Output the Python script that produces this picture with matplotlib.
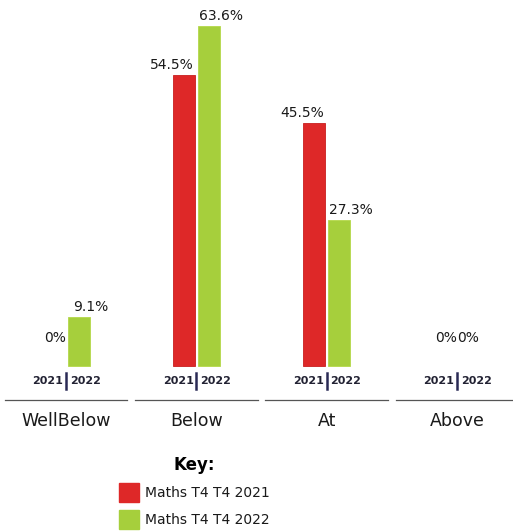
import matplotlib.pyplot as plt
from matplotlib.patches import Patch
import numpy as np

RED = "#de2828"
GREEN = "#a6cf3c"
TEXT = "#1a1a1a"

categories = ["WellBelow", "Below", "At", "Above"]
vals_2021 = [0.0, 54.5, 45.5, 0.0]
vals_2022 = [9.1, 63.6, 27.3, 0.0]
labels_2021 = ["0%", "54.5%", "45.5%", "0%"]
labels_2022 = ["9.1%", "63.6%", "27.3%", "0%"]
series_names = ["Maths T4 T4 2021", "Maths T4 T4 2022"]

fig = plt.figure(figsize=(5.13, 5.32), dpi=100)
ax = fig.add_axes([0, 0, 1, 1])
ax.set_xlim(-0.507, 3.43)
ax.set_ylim(-31.1, 68.5)
ax.set_axis_off()

x = np.arange(len(categories))
w = 0.169
off = 0.096

for i in range(len(categories)):
    if vals_2021[i] > 0:
        ax.bar(x[i] - off, vals_2021[i], w, color=RED, edgecolor="#c81e1e", linewidth=0.6)
    if vals_2022[i] > 0:
        ax.bar(x[i] + off, vals_2022[i], w, color=GREEN, edgecolor="#b5d84a", linewidth=0.6)

for i in range(len(categories)):
    if vals_2021[i] > 0:
        ax.text(x[i] - off - 0.09, vals_2021[i] + 0.6, labels_2021[i], ha="center",
                va="bottom", fontsize=10, color=TEXT)
    else:
        ax.text(x[i] - off + 0.01, 4.0, labels_2021[i], ha="center", va="bottom",
                fontsize=10, color=TEXT)
    if vals_2022[i] > 0:
        ax.text(x[i] + off + 0.09, vals_2022[i] + 0.6, labels_2022[i], ha="center",
                va="bottom", fontsize=10, color=TEXT)
    else:
        ax.text(x[i] + off - 0.01, 4.0, labels_2022[i], ha="center", va="bottom",
                fontsize=10, color=TEXT)
    # year sub-labels
    ax.text(x[i] - 0.02, -2.9, "2021", ha="right", va="center", fontsize=8,
            fontweight="bold", color="#222233")
    ax.text(x[i] + 0.03, -2.9, "2022", ha="left", va="center", fontsize=8,
            fontweight="bold", color="#222233")
    ax.plot([x[i], x[i]], [-4.4, -1.4], color="#2a2a55", linewidth=1.8)
    # divider line
    ax.plot([x[i] - 0.47, x[i] + 0.47], [-6.4, -6.4], color="#555555", linewidth=0.9)
    ax.text(x[i], -10.4, categories[i], ha="center", va="center", fontsize=12.5,
            color=TEXT)

handles = [Patch(facecolor=RED, edgecolor=RED), Patch(facecolor=GREEN, edgecolor=GREEN)]
leg = fig.legend(handles, series_names, title="Key:", loc="upper left",
                 bbox_to_anchor=(106 / 513, 1 - 444 / 532), frameon=False,
                 fontsize=10, handlelength=1.45, handleheight=1.7,
                 labelspacing=0.6, handletextpad=0.45,
                 title_fontproperties={"weight": "bold", "size": 12})
for t in leg.get_texts():
    t.set_color(TEXT)

fig.savefig("out.png", dpi=100, facecolor="white")
